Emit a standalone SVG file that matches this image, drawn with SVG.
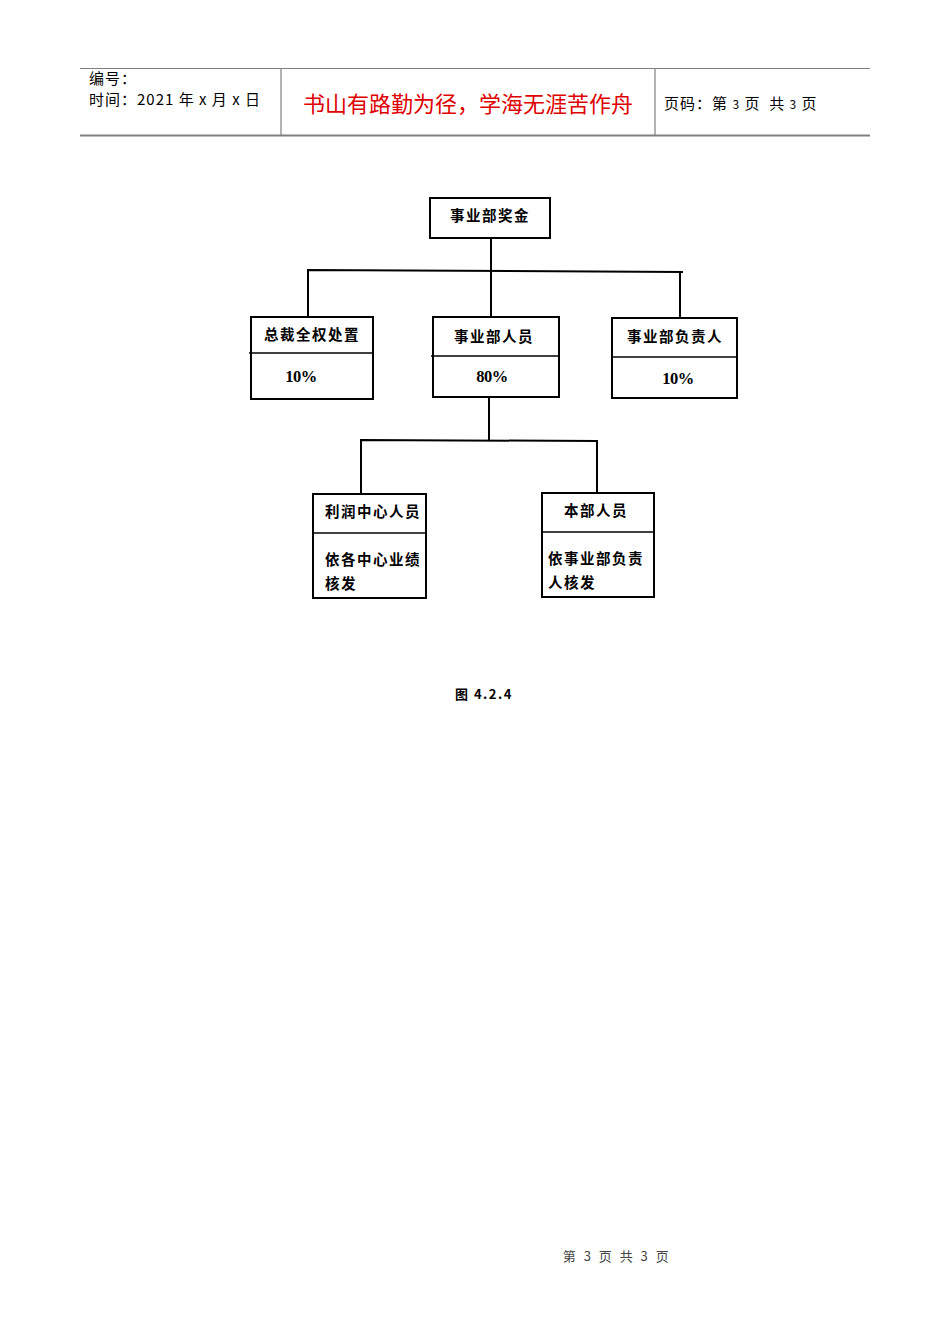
<svg xmlns="http://www.w3.org/2000/svg" width="950" height="1344" viewBox="0 0 950 1344">
<style>
.hdr{font-family:"Noto Sans CJK SC","Liberation Sans",sans-serif;font-size:15px;fill:#000;letter-spacing:1px}
.hl{stroke:#808080;fill:none}
.box{fill:#fff;stroke:#000;stroke-width:2}
.div{stroke:#000;stroke-width:1.6}
.t{font-family:"Noto Sans CJK SC","Liberation Serif",serif;font-size:14.5px;font-weight:bold;fill:#000;letter-spacing:1.5px}
.n{font-family:"Liberation Serif",serif;font-size:16.5px;font-weight:bold;fill:#000;letter-spacing:-0.5px}
.c{stroke:#000;stroke-width:2;fill:none}
</style>
<rect width="950" height="1344" fill="#fff"/>
<g id="header">
<line class="hl" x1="80" y1="68.5" x2="870" y2="68.5" stroke-width="1.2"/>
<line class="hl" x1="80" y1="135.5" x2="870" y2="135.5" stroke-width="2"/>
<line class="hl" x1="281" y1="68" x2="281" y2="136" stroke-width="1.2"/>
<line class="hl" x1="655" y1="68" x2="655" y2="136" stroke-width="1.2"/>
<text class="hdr" x="89" y="84">编号：</text>
<text class="hdr" x="89" y="105" xml:space="preserve">时间：2021 年 x 月 x 日</text>
<text x="468" y="112" text-anchor="middle" font-family="Noto Sans CJK SC,sans-serif" font-size="22" fill="#e00000">书山有路勤为径，学海无涯苦作舟</text>
<text class="hdr" x="664" y="109" xml:space="preserve">页码：第 <tspan font-size="12">3</tspan> 页  共 <tspan font-size="12">3</tspan> 页</text>
</g>
<g id="connectors">
<polyline class="c" points="491,238 491,317"/>
<polyline class="c" points="308,317 308,270 683,272"/>
<polyline class="c" points="680,272 680,317"/>
<polyline class="c" points="489,397 489,440"/>
<polyline class="c" points="361,494 361,440 597,441 597,493"/>
</g>
<g id="n-top">
<rect class="box" x="430" y="198" width="120" height="40"/>
<text class="t" x="490" y="221" text-anchor="middle">事业部奖金</text>
</g>
<g id="n-president">
<rect class="box" x="251" y="317" width="122" height="82"/>
<line class="div" x1="249" y1="353" x2="373" y2="353"/>
<text class="t" x="312" y="340" text-anchor="middle">总裁全权处置</text>
<text class="n" x="301" y="382" text-anchor="middle">10%</text>
</g>
<g id="n-staff">
<rect class="box" x="433" y="317" width="126" height="80"/>
<line class="div" x1="431" y1="356" x2="559" y2="356"/>
<text class="t" x="494" y="342" text-anchor="middle">事业部人员</text>
<text class="n" x="492" y="382" text-anchor="middle">80%</text>
</g>
<g id="n-head">
<rect class="box" x="612" y="318" width="125" height="80"/>
<line class="div" x1="612" y1="357" x2="737" y2="357"/>
<text class="t" x="675" y="342" text-anchor="middle">事业部负责人</text>
<text class="n" x="678" y="384" text-anchor="middle">10%</text>
</g>
<g id="n-profit">
<rect class="box" x="313" y="494" width="113" height="104"/>
<line class="div" x1="313" y1="533" x2="426" y2="533"/>
<text class="t" x="325" y="517">利润中心人员</text>
<text class="t" x="325" y="565">依各中心业绩</text>
<text class="t" x="325" y="589">核发</text>
</g>
<g id="n-hq">
<rect class="box" x="542" y="493" width="112" height="104"/>
<line class="div" x1="542" y1="532" x2="654" y2="532"/>
<text class="t" x="596" y="516" text-anchor="middle">本部人员</text>
<text class="t" x="548" y="564">依事业部负责</text>
<text class="t" x="548" y="588">人核发</text>
</g>
<text x="455" y="699" font-family="Noto Sans CJK SC,Liberation Sans,sans-serif" font-size="13" font-weight="bold" letter-spacing="1.5">图 4.2.4</text>
<text x="617" y="1261" text-anchor="middle" font-family="Noto Sans CJK SC,Liberation Sans,sans-serif" font-size="13" fill="#444" letter-spacing="2.5">第 3 页 共 3 页</text>
</svg>
